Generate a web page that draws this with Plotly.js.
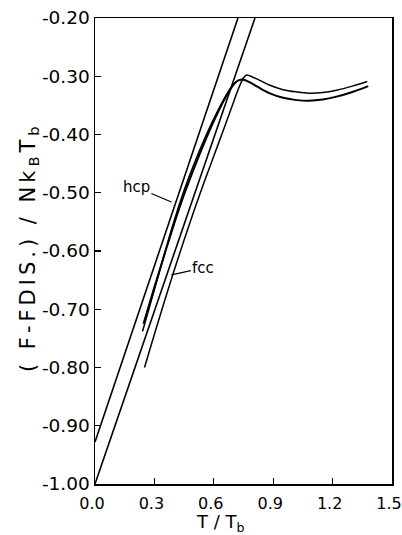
<!DOCTYPE html>
<html>
<head>
<meta charset="utf-8">
<script src="https://cdn.plot.ly/plotly-3.0.1.min.js"></script>
<style>html,body{margin:0;padding:0;background:#fff;}#chart{width:402px;height:535px;}</style>
</head>
<body>
<div id="chart"></div>
<script>
// Straight reference lines
const hcpLineT = [0.0, 0.722];
const hcpLineF = [-0.928, -0.20];
const lowLineT = [0.0, 0.808];
const lowLineF = [-1.00, -0.20];

// Thick curve pair (rising part, then lower branch)
const curveA1T = [0.245,0.30,0.35,0.40,0.45,0.50,0.55,0.60,0.65,0.69,0.715,0.735,0.75,0.78,0.82,0.88,0.95,1.02,1.08,1.15,1.22,1.30,1.38];
const curveA1F = [-0.725,-0.662,-0.607,-0.553,-0.503,-0.458,-0.416,-0.377,-0.342,-0.319,-0.309,-0.306,-0.306,-0.310,-0.318,-0.329,-0.337,-0.341,-0.342,-0.340,-0.335,-0.327,-0.317];
const curveA2T = [0.24,0.30,0.35,0.40,0.45,0.50,0.55,0.60,0.65,0.69,0.715];
const curveA2F = [-0.738,-0.666,-0.606,-0.548,-0.496,-0.451,-0.410,-0.373,-0.340,-0.318,-0.309];

// Thin curve (rising part, then upper branch)
const curveBT = [0.25,0.30,0.35,0.40,0.45,0.50,0.55,0.60,0.65,0.70,0.73,0.75,0.765,0.78,0.82,0.88,0.95,1.02,1.08,1.15,1.22,1.30,1.375];
const curveBF = [-0.80,-0.743,-0.687,-0.633,-0.581,-0.531,-0.483,-0.437,-0.391,-0.344,-0.317,-0.303,-0.298,-0.299,-0.305,-0.315,-0.323,-0.327,-0.329,-0.328,-0.324,-0.317,-0.309];

const xTickVals = [0.0,0.3,0.6,0.9,1.2,1.5];
const xTickText = ["0.0","0.3","0.6","0.9","1.2","1.5"];
const yTickVals = [-1.0,-0.9,-0.8,-0.7,-0.6,-0.5,-0.4,-0.3,-0.2];
const yTickText = ["-1.00","-0.90","-0.80","-0.70","-0.60","-0.50","-0.40","-0.30","-0.20"];

const black = "#000";
const traces = [
  {x: hcpLineT, y: hcpLineF, mode: "lines", line: {color: black, width: 1.6}},
  {x: lowLineT, y: lowLineF, mode: "lines", line: {color: black, width: 1.6}},
  {x: curveA1T, y: curveA1F, mode: "lines", line: {color: black, width: 2.0, shape: "spline"}},
  {x: curveA2T, y: curveA2F, mode: "lines", line: {color: black, width: 1.6, shape: "spline"}},
  {x: curveBT, y: curveBF, mode: "lines", line: {color: black, width: 1.5, shape: "spline"}}
];

const fam = "DejaVu Sans, Liberation Sans, sans-serif";
const f = (s) => ({family: fam, size: s, color: black});

const layout = {
  width: 402, height: 535,
  margin: {l: 95, r: 10, t: 18, b: 51},
  paper_bgcolor: "#fff", plot_bgcolor: "#fff",
  showlegend: false,
  font: f(16),
  xaxis: {
    range: [0, 1.5], tickmode: "array", tickvals: xTickVals, ticktext: xTickText,
    ticks: "inside", ticklen: 6, tickwidth: 1.2, tickcolor: black,
    showline: true, linecolor: black, linewidth: 1.5, mirror: true,
    showgrid: false, zeroline: false, tickfont: f(16), ticklabeloverflow: "allow",
    ticklabelshift: -3, ticklabelstandoff: 4
  },
  yaxis: {
    range: [-1.0, -0.2], tickmode: "array", tickvals: yTickVals, ticktext: yTickText,
    ticks: "inside", ticklen: 6, tickwidth: 1.2, tickcolor: black,
    showline: true, linecolor: black, linewidth: 1.5, mirror: true,
    showgrid: false, zeroline: false, tickfont: f(18.5), ticklabeloverflow: "allow"
  },
  annotations: [
    {xref: "paper", yref: "paper", x: 0, y: 0.5, xanchor: "center", yanchor: "middle",
     xshift: -66, yshift: 4, textangle: -90, showarrow: false, font: f(21),
     text: "<span style=\"letter-spacing:4px\">( F-FDIS.) / Nk<sub>B</sub>T<sub>b</sub></span>"},
    {xref: "paper", yref: "paper", x: 0.421, y: 0, xanchor: "center", yanchor: "middle",
     yshift: -39, showarrow: false, font: f(18), text: "T / T<sub>b</sub>"},
    {x: 0.3856, y: -0.516, xref: "x", yref: "y", text: "hcp", showarrow: true, arrowhead: 0,
     arrowwidth: 1.2, arrowcolor: black, ax: -35, ay: -15, font: f(15)},
    {x: 0.3856, y: -0.641, xref: "x", yref: "y", text: "fcc", showarrow: true, arrowhead: 0,
     arrowwidth: 1.2, arrowcolor: black, ax: 32, ay: -7, font: f(15)}
  ]
};

Plotly.newPlot("chart", traces, layout, {displayModeBar: false, staticPlot: true});
</script>
</body>
</html>
